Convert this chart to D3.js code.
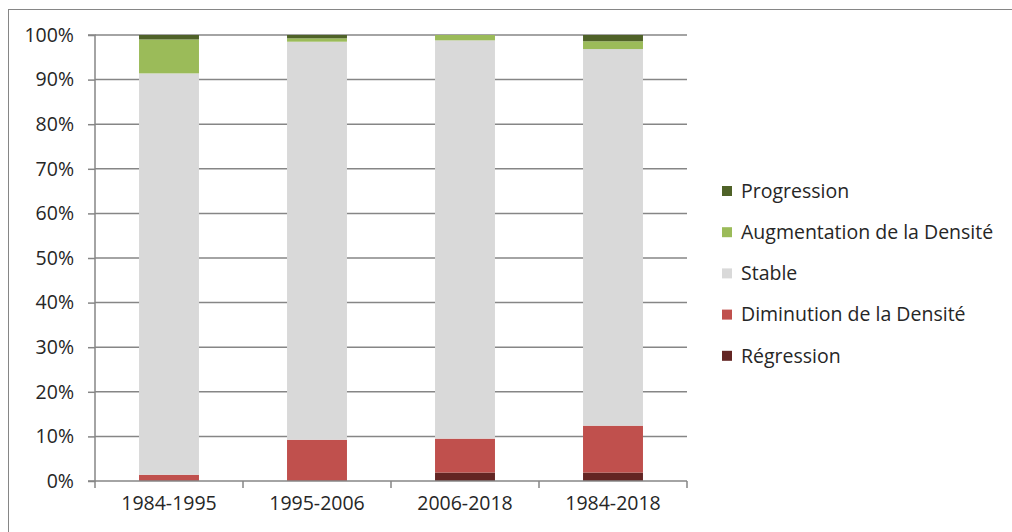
<!DOCTYPE html>
<html><head><meta charset="utf-8">
<script src="https://cdn.jsdelivr.net/npm/d3@7"></script>
<style>body{margin:0;background:#fff}svg{display:block}text{font-family:"Open Sans",sans-serif;fill:#262626}</style>
</head><body><svg id="c" width="1012" height="532"></svg>
<script>
const categories = ["1984-1995","1995-2006","2006-2018","1984-2018"];
const seriesNames = ["Régression","Diminution de la Densité","Stable","Augmentation de la Densité","Progression"];
const regression   = [0, 0, 1.9, 1.9];
const diminution   = [1.4, 9.25, 7.6, 10.5];
const stable       = [90, 89.25, 89.3, 84.45];
const augmentation = [7.6, 0.75, 1.2, 1.75];
const progression  = [1.0, 0.75, 0, 1.4];
const yTicks = [0,10,20,30,40,50,60,70,80,90,100];
const colors = ["#632523","#C0504D","#D9D9D9","#9BBB59","#4F6228"];

const seriesValues = [regression, diminution, stable, augmentation, progression];
const rows = categories.map((c,i)=>{const o={cat:c};seriesNames.forEach((s,j)=>o[s]=seriesValues[j][i]);return o;});
const stacked = d3.stack().keys(seriesNames)(rows);

const svg = d3.select("#c");
svg.append("rect").attr("x",8.5).attr("y",9.5).attr("width",1100).attr("height",600)
  .attr("fill","none").attr("stroke","#868686").attr("stroke-width",1);

const L=95, R=687, T=35, B=481;
const FS = "19.5px";
const x = d3.scaleBand().domain(categories).range([L,R]).paddingInner(0.595).paddingOuter(0.2975);
const y = d3.scaleLinear().domain([0,100]).range([B,T]);

svg.append("g").selectAll("line").data(yTicks.filter(d=>d>0)).join("line")
  .attr("x1",L).attr("x2",R).attr("y1",d=>y(d)).attr("y2",d=>y(d))
  .attr("stroke","#868686").attr("stroke-width",1.5);

svg.append("g").selectAll("g").data(stacked).join("g")
  .attr("fill",(d,i)=>colors[i])
  .selectAll("rect").data(d=>d).join("rect")
  .attr("x",d=>x(d.data.cat)).attr("width",x.bandwidth())
  .attr("y",d=>y(d[1])).attr("height",d=>Math.max(0,y(d[0])-y(d[1])));

const ya = svg.append("g").attr("transform",`translate(${L},0)`)
  .call(d3.axisLeft(y).tickValues(yTicks).tickFormat(d=>d+"%").tickSize(7).tickPadding(14));
ya.select(".domain").attr("stroke","#868686").attr("stroke-width",1.5).attr("d",`M-7,${y(100)}H0V${B}H-7`);
ya.selectAll(".tick line").attr("stroke","#868686").attr("stroke-width",1.5);
ya.selectAll("text").style("font-size",FS).attr("fill","#262626");

const xa = svg.append("g").attr("transform",`translate(0,${B})`)
  .call(d3.axisBottom(x).tickSize(0).tickPadding(18));
xa.select(".domain").attr("stroke","#868686").attr("stroke-width",1.5).attr("d",`M${L},0H${R}`);
xa.selectAll("text").style("font-size",FS).attr("fill","#262626").attr("dy","0.55em");
const bounds = d3.range(categories.length+1).map(i=>L+i*(R-L)/categories.length);
svg.append("g").selectAll("line").data(bounds).join("line")
  .attr("x1",d=>d).attr("x2",d=>d).attr("y1",B).attr("y2",B+7)
  .attr("stroke","#868686").attr("stroke-width",1.5);

const legendOrder = seriesNames.map((s,i)=>({s,c:colors[i]})).reverse();
const lg = svg.append("g").selectAll("g").data(legendOrder).join("g")
  .attr("transform",(d,i)=>`translate(722,${191+i*41.2})`);
lg.append("rect").attr("x",0).attr("y",-5).attr("width",10).attr("height",10).attr("fill",d=>d.c);
lg.append("text").attr("x",19).attr("y",0).attr("dy","0.35em").style("font-size",FS).text(d=>d.s);
</script></body></html>
